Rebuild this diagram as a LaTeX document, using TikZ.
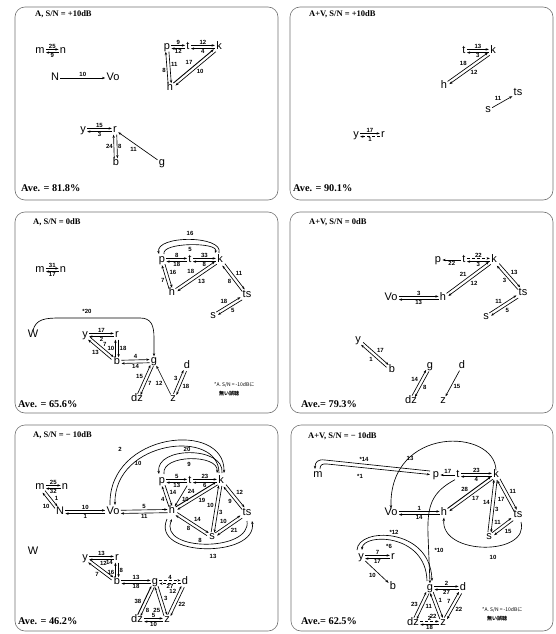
\documentclass[tikz,border=0pt]{standalone}
\usepackage{fontspec}
\setmainfont{Liberation Serif}
\newfontfamily\nf{Liberation Sans}
\newfontfamily\jpf{Noto Sans CJK JP}
\usetikzlibrary{arrows.meta,calc}

\tikzset{
 nd/.style={font=\nf\fontsize{11}{11}\selectfont, inner sep=1.2pt, text height=6pt, text depth=0.5pt},
 arr/.style={line width=0.65pt, -{Stealth[length=3.2pt,width=2.4pt]}},
 labopt/.style={},
 lab/.style={midway, auto, inner sep=0.8pt, font=\nf\bfseries\fontsize{6}{6}\selectfont, labopt},
 albl/.style={inner sep=0pt, font=\nf\bfseries\fontsize{6}{6}\selectfont},
 ttl/.style={anchor=west, inner sep=0pt, font=\bfseries\fontsize{8.5}{8.5}\selectfont},
 ave/.style={anchor=west, inner sep=0pt, font=\bfseries\fontsize{10.3}{10.3}\selectfont},
 note/.style={anchor=west, inner sep=0pt, font=\jpf\fontsize{5}{5}\selectfont},
 panel/.style={draw=black!55, line width=0.6pt, rounded corners=10pt},
}

\newcommand\arP[4][]{%
  \draw[arr,#1] let \p1=($(#3)-(#2)$),
    \n1={int(mod(round(atan2(\y1,\x1))+360,360))},
    \n2={int(mod(\n1+180,360))},
    \n3={\n1+90}
  in ([shift={(\n3:1.6pt)}]#2.\n1) -- node[lab]{#4} ([shift={(\n3:1.6pt)}]#3.\n2);}
\newcommand\arS[4][]{%
  \draw[arr,#1] (#2) -- node[lab]{#4} (#3);}

\begin{document}
\begin{tikzpicture}[x=1pt,y=-1pt]
\useasboundingbox (0,0) rectangle (556,634);
\fill[white] (0,0) rectangle (556,634);

% ---------- panels ----------
\draw[panel] (15,7) rectangle (278,200);
\draw[panel] (290,7) rectangle (553,200);
\draw[panel] (15,212) rectangle (278,413);
\draw[panel] (290,212) rectangle (553,413);
\draw[panel] (15,425) rectangle (278,631);
\draw[panel] (291,425) rectangle (553,631);

% ---------- Panel A ----------
\begin{scope}[yshift=2pt]
\node[ttl] (Attl) at (35,16) {A, S/N = +10dB};
\node[ave] (Aave) at (21,190) {Ave. = 81.8\%};
\node[nd] (Am) at (40,53) {m};
\node[nd] (An) at (63,53) {n};
\node[nd] (AN) at (55,80) {N};
\node[nd] (AVo) at (113,80) {Vo};
\node[nd] (Ap) at (167,49) {p};
\node[nd] (At) at (188,49) {t};
\node[nd] (Ak) at (219,49) {k};
\node[nd] (Ah) at (170,90) {h};
\node[nd] (Ay) at (83,132) {y};
\node[nd] (Ar) at (115,132) {r};
\node[nd] (Ab) at (116,165) {b};
\node[nd] (Ag) at (162,165) {g};
\arP{Am}{An}{25} \arP{An}{Am}{9}
\arS[line width=0.5pt]{AN}{AVo}{10}
\arP{Ap}{At}{9} \arP{At}{Ap}{12}
\arP{At}{Ak}{12} \arP{Ak}{At}{4}
\arP{Ah}{Ap}{8} \arP{Ap}{Ah}{11}
\arP[line width=0.9pt]{Ah}{Ak}{17} \arP{Ak}{Ah}{10}
\arP{Ay}{Ar}{15} \arP{Ar}{Ay}{3}
\arP{Ab}{Ar}{24} \arP{Ar}{Ab}{8}
\arS{Ag}{Ar}{11}
\end{scope}

% ---------- Panel B ----------
\begin{scope}[yshift=2pt]
\node[ttl] (Bttl) at (309,16) {A+V, S/N = +10dB};
\node[ave] (Bave) at (293,190) {Ave. = 90.1\%};
\node[nd] (Bt) at (464,53) {t};
\node[nd] (Bk) at (493,53) {k};
\node[nd] (Bh) at (444,88) {h};
\node[nd] (Bts) at (518,95) {ts};
\node[nd] (Bs) at (488,112) {s};
\node[nd] (By) at (356,137) {y};
\node[nd] (Br) at (383,137) {r};
\arP{Bt}{Bk}{13} \arP{Bk}{Bt}{3}
\arP{Bh}{Bk}{18} \arP{Bk}{Bh}{12}
\arS{Bs}{Bts}{11}
\arP{By}{Br}{17} \arP[densely dashed]{Br}{By}{1}
\end{scope}

% ---------- Panel C ----------
\begin{scope}[yshift=7pt]
\node[ttl] (Cttl) at (33,229) {A, S/N = 0dB};
\node[ave] (Cave) at (18,411) {Ave. = 65.6\%};
\node[nd] (Cm) at (40,277) {m};
\node[nd] (Cn) at (63,277) {n};
\node[nd] (Cp) at (162,267) {p};
\node[nd] (Ct) at (190,267) {t};
\node[nd] (Ck) at (220,267) {k};
\node[nd] (Ch) at (172,300) {h};
\node[nd] (Cts) at (247,302) {ts};
\node[nd] (Cs) at (213,323) {s};
\node[nd] (CW) at (33,342) {W};
\node[nd] (Cy) at (85,342) {y};
\node[nd] (Cr) at (117,342) {r};
\node[nd] (Cb) at (117,369) {b};
\node[nd] (Cg) at (154,368) {g};
\node[nd] (Cdz) at (137,406) {dz};
\node[nd] (Cz) at (173,406) {z};
\node[nd] (Cd) at (187,373) {d};
\arP{Cm}{Cn}{31} \arP{Cn}{Cm}{17}
\arP{Cp}{Ct}{8} \arP{Ct}{Cp}{18}
\arP{Ct}{Ck}{33} \arP{Ck}{Ct}{8}
\arP{Ch}{Cp}{7} \arP{Cp}{Ch}{16}
\arP{Ch}{Ck}{18} \arP{Ck}{Ch}{13}
\arP{Ck}{Cts}{11} \arP{Cts}{Ck}{8}
\arP{Cs}{Cts}{18} \arP{Cts}{Cs}{5}
\draw[arr] (219,260) .. controls (224,242) and (155,242) .. (159,261);
\draw[arr] (164,261) .. controls (161,249) and (219,249) .. (215,260);
\node[albl] (C16) at (190,240) {16};
\node[albl] (C5) at (190,256) {5};
\draw[arr] (CW.north) .. controls (36,326) and (45,325) .. (60,325) -- (140,325) .. controls (151,325) and (154,332) .. (154,345) -- (Cg.north);
\node[albl] (C20) at (87,318) {*20};
\arP{Cy}{Cr}{17} \arP{Cr}{Cy}{2}
\arP{Cb}{Cr}{10} \arP{Cr}{Cb}{18}
\arP{Cy}{Cb}{7} \arP{Cb}{Cy}{13}
\arP{Cb}{Cg}{4} \arP{Cg}{Cb}{14}
\arP{Cdz}{Cg}{15} \arP{Cg}{Cdz}{7}
\arS{Cz}{Cg}{12}
\arP{Cz}{Cd}{3} \arP{Cd}{Cz}{18}
\node[note] (Cn1) at (214,392) {*A. S/N = -10dBに};
\node[note] (Cn2) at (219,401) {\bfseries 無い誤聴};
\end{scope}

% ---------- Panel D ----------
\begin{scope}[yshift=7pt]
\node[ttl] (Dttl) at (309,229) {A+V, S/N = 0dB};
\node[ave] (Dave) at (301,411) {Ave.= 79.3\%};
\node[nd] (Dp) at (438,267) {p};
\node[nd] (Dt) at (464,267) {t};
\node[nd] (Dk) at (494,267) {k};
\node[nd] (DVo) at (391,305) {Vo};
\node[nd] (Dh) at (443,305) {h};
\node[nd] (Dts) at (523,300) {ts};
\node[nd] (Ds) at (486,324) {s};
\node[nd] (Dy) at (358,347) {y};
\node[nd] (Db) at (392,377) {b};
\node[nd] (Dg) at (430,373) {g};
\node[nd] (Ddz) at (411,408) {dz};
\node[nd] (Dd) at (462,373) {d};
\node[nd] (Dz) at (443,408) {z};
\arS{Dt}{Dp}{22}
\arP[densely dashed]{Dt}{Dk}{22} \arP{Dk}{Dt}{3}
\arP{DVo}{Dh}{3} \arP{Dh}{DVo}{13}
\arP{Dh}{Dk}{21} \arP{Dk}{Dh}{12}
\arP{Dk}{Dts}{13} \arP{Dts}{Dk}{3}
\arP{Ds}{Dts}{11} \arP{Dts}{Ds}{5}
\arP{Dy}{Db}{17} \arP{Db}{Dy}{1}
\arP{Ddz}{Dg}{14} \arP{Dg}{Ddz}{8}
\arS{Dd}{Dz}{15}
\end{scope}

% ---------- Panel E ----------
\node[ttl] (Ettl) at (33,435) {A, S/N = − 10dB};
\node[ave] (Eave) at (18,621) {Ave. = 46.2\%};
\node[nd] (Em) at (40,487) {m};
\node[nd] (En) at (65,487) {n};
\node[nd] (EN) at (60,512) {N};
\node[nd] (EVo) at (113,512) {Vo};
\node[nd] (Eh) at (172,511) {h};
\node[nd] (Ep) at (162,481) {p};
\node[nd] (Et) at (190,481) {t};
\node[nd] (Ek) at (221,481) {k};
\node[nd] (Ets) at (247,513) {ts};
\node[nd] (Es) at (212,537) {s};
\node[nd] (EW) at (33,552) {W};
\node[nd] (Ey) at (85,558) {y};
\node[nd] (Er) at (117,558) {r};
\node[nd] (Eb) at (117,582) {b};
\node[nd] (Eg) at (155,582) {g};
\node[nd] (Ed) at (185,582) {d};
\node[nd] (Edz) at (137,620) {dz};
\node[nd] (Ez) at (167,620) {z};
\arP{Em}{En}{25} \arP{En}{Em}{32}
\arP[labopt/.style={pos=0.35}]{EN}{Em}{10} \arP[labopt/.style={pos=0.7}]{Em}{EN}{1}
\arP{EN}{EVo}{10} \arP{EVo}{EN}{1}
\arP{EVo}{Eh}{5} \arP{Eh}{EVo}{11}
\arP{Ep}{Et}{5} \arP{Et}{Ep}{13}
\arP{Et}{Ek}{23} \arP{Ek}{Et}{6}
\arP{Eh}{Ep}{4} \arP{Ep}{Eh}{14}
\arS{Et}{Eh}{10}
\arP[line width=0.9pt]{Eh}{Ek}{24} \arP{Ek}{Eh}{19}
\arP{Ek}{Ets}{12} \arP{Ets}{Ek}{9}
\arP{Es}{Ek}{10} \arP{Ek}{Es}{3}
\arP{Eh}{Es}{14} \arP{Es}{Eh}{8}
\arP{Es}{Ets}{10} \arP{Ets}{Es}{21}
% Vo - k arcs
\draw[arr] (110,505) .. controls (108,432) and (225,420) .. (224,473);
\draw[arr] (219,473) .. controls (219,428) and (114,440) .. (115,505);
\node[albl] (E2) at (120,449) {2};
\node[albl] (E10a) at (138,463) {10};
% p - k arcs
\draw[arr] (222,473) .. controls (225,446) and (155,446) .. (159,474);
\draw[arr] (164,474) .. controls (161,454) and (219,454) .. (217,473);
\node[albl] (E20) at (187,449) {20};
\node[albl] (E9) at (189,464) {9};
% h - ts arcs
\draw[arr] (167,519) .. controls (150,558) and (258,558) .. (252,521);
\draw[arr] (247,521) .. controls (252,552) and (158,552) .. (172,519);
\node[albl] (E8) at (200,540) {8};
\node[albl] (E13) at (213,556) {13};
\arP{Ey}{Er}{13} \arP[labopt/.style={pos=0.18}]{Er}{Ey}{14}
\arP[labopt/.style={pos=0.35}]{Eb}{Er}{16} \arP{Er}{Eb}{8}
\arP[labopt/.style={pos=0.38}]{Ey}{Eb}{12} \arP{Eb}{Ey}{7}
\arP{Eb}{Eg}{13} \arP{Eg}{Eb}{18}
\arP[densely dashed]{Eg}{Ed}{4} \arP[densely dashed]{Ed}{Eg}{27}
\arP[line width=0.9pt,labopt/.style={pos=0.35}]{Edz}{Eg}{38} \arP[labopt/.style={pos=0.7}]{Eg}{Edz}{8}
\arP[labopt/.style={pos=0.55}]{Eg}{Ez}{3} \arP[labopt/.style={pos=0.3}]{Ez}{Eg}{25}
\arP[labopt/.style={pos=0.7}]{Ez}{Ed}{12} \arP{Ed}{Ez}{22}
\arP{Edz}{Ez}{5} \arP{Ez}{Edz}{10}

% ---------- Panel F ----------
\node[ttl] (Fttl) at (308,436) {A+V, S/N = − 10dB};
\node[ave] (Fave) at (301,621) {Ave.= 62.5\%};
\node[nd] (Fm) at (318,475) {m};
\node[nd] (Fp) at (436,475) {p};
\node[nd] (Ft) at (458,475) {t};
\node[nd] (Fk) at (496,475) {k};
\node[nd] (FVo) at (391,513) {Vo};
\node[nd] (Fh) at (444,513) {h};
\node[nd] (Fts) at (518,515) {ts};
\node[nd] (Fs) at (489,537) {s};
\node[nd] (Fy) at (361,557) {y};
\node[nd] (Fr) at (393,557) {r};
\node[nd] (Fb) at (393,587) {b};
\node[nd] (Fg) at (430,588) {g};
\node[nd] (Fd) at (463,588) {d};
\node[nd] (Fdz) at (413,623) {dz};
\node[nd] (Fz) at (443,623) {z};
% m - p
\draw[arr] (430,471) -- (325,460) .. controls (318,459) and (315,462) .. (315,469);
\draw[arr] (320,469) .. controls (320,465) and (322,463.5) .. (327,464) -- (430,474.5);
\node[albl] (F14) at (364,459) {*14};
\node[albl] (F1) at (360,476) {*1};
\arS[labopt/.style={swap}]{Ft}{Fp}{17}
\arP{Ft}{Fk}{23} \arP{Fk}{Ft}{4}
\arP{FVo}{Fh}{1} \arP{Fh}{FVo}{14}
\arP[line width=0.9pt]{Fh}{Fk}{28} \arP{Fk}{Fh}{17}
\arP{Fs}{Fk}{14} \arP{Fk}{Fs}{3}
\arP{Fk}{Fts}{11} \arP{Fts}{Fk}{17}
\arP{Fs}{Fts}{11} \arP{Fts}{Fs}{15}
% k -> Vo
\draw[arr] (Fk.north) .. controls (495,428) and (389,425) .. (FVo.north);
\node[albl] (F13) at (410,458) {13};
% ts -> h
\draw[arr] (521,522) .. controls (530,556) and (440,556) .. (Fh.south);
\node[albl] (F10a) at (493,557) {10};
% t -> g
\draw[arr] (Ft.south west) .. controls (432,492) and (427,505) .. (428,535) -- (Fg.north);
\node[albl] (F10b) at (439,550) {*10};
% y - g
\draw[arr] (357,550) .. controls (358,527) and (430,527) .. (432,581);
\draw[arr] (427,581) .. controls (426,533) and (363,533) .. (362,550);
\node[albl] (F12) at (394,532) {*12};
\node[albl] (F6) at (389,546) {*6};
\arP{Fy}{Fr}{7} \arP{Fr}{Fy}{17}
\arS[labopt/.style={swap}]{Fy}{Fb}{10}
\arP{Fg}{Fd}{2} \arP{Fd}{Fg}{27}
\arP[labopt/.style={pos=0.4}]{Fdz}{Fg}{23} \arP[labopt/.style={pos=0.38}]{Fg}{Fdz}{11}
\arP[labopt/.style={pos=0.22}]{Fz}{Fg}{22} \arP[labopt/.style={pos=0.45}]{Fg}{Fz}{1}
\arP{Fz}{Fd}{7} \arP{Fd}{Fz}{22}
\arP[densely dashed]{Fdz}{Fz}{2} \arP{Fz}{Fdz}{18}
\node[note] (Fn1) at (482,610) {*A. S/N = -10dBに};
\node[note] (Fn2) at (487,619) {\bfseries 無い誤聴};
\end{tikzpicture}
\end{document}
